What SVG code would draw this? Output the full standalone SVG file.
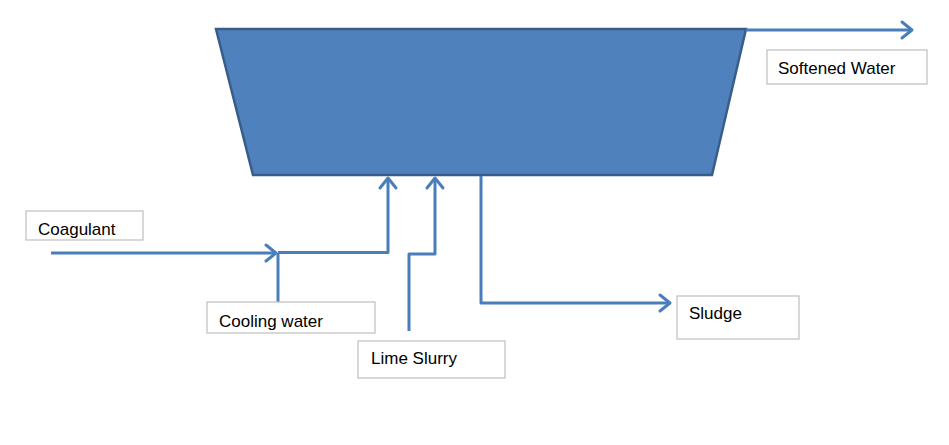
<svg xmlns="http://www.w3.org/2000/svg" width="949" height="445" viewBox="0 0 949 445">
<style>
.box{fill:#fff;stroke:#bfbfbf;stroke-width:1.2}
.lbl{font-family:"Liberation Sans",Arial,sans-serif;font-size:17px;fill:#000}
.pipe{fill:none;stroke:#4a7ebb;stroke-width:3;stroke-linejoin:round}
</style>
<defs>
<marker id="arr" markerUnits="userSpaceOnUse" markerWidth="24" markerHeight="24" viewBox="-14 -12 18 24" refX="0" refY="0" orient="auto">
<path d="M-10,-8 L0,0 L-10,8" fill="none" stroke="#4a7ebb" stroke-width="3" stroke-linecap="round" stroke-linejoin="round"/>
</marker>
</defs>
<rect width="949" height="445" fill="#fff"/>
<g id="tank">
<polygon points="216,29 746,29 712,175 253,175" fill="#4f81bd" stroke="#385d8a" stroke-width="2.5"/>
</g>
<g id="connectors">
<path class="pipe" d="M746,30 L912,30" marker-end="url(#arr)"/>
<path class="pipe" d="M51,253 L276,253" marker-end="url(#arr)"/>
<path class="pipe" d="M278,252.5 L388,252.5 L388,178" marker-end="url(#arr)"/>
<path class="pipe" d="M278,302 L278,253"/>
<path class="pipe" d="M409,331 L409,254 L435,254 L435,178" marker-end="url(#arr)"/>
<path class="pipe" d="M481,176 L481,303 L670,303" marker-end="url(#arr)"/>
</g>
<g id="softened-water">
<rect class="box" x="767" y="50" width="160" height="34"/>
<text class="lbl" x="778" y="74">Softened Water</text>
</g>
<g id="coagulant">
<rect class="box" x="26" y="211" width="117" height="29"/>
<text class="lbl" x="38" y="235">Coagulant</text>
</g>
<g id="cooling-water">
<rect class="box" x="207" y="302" width="168" height="31"/>
<text class="lbl" x="219" y="327">Cooling water</text>
</g>
<g id="lime-slurry">
<rect class="box" x="358" y="341" width="147" height="37"/>
<text class="lbl" x="371" y="364">Lime Slurry</text>
</g>
<g id="sludge">
<rect class="box" x="677" y="296" width="122" height="43"/>
<text class="lbl" x="689" y="319">Sludge</text>
</g>
</svg>
